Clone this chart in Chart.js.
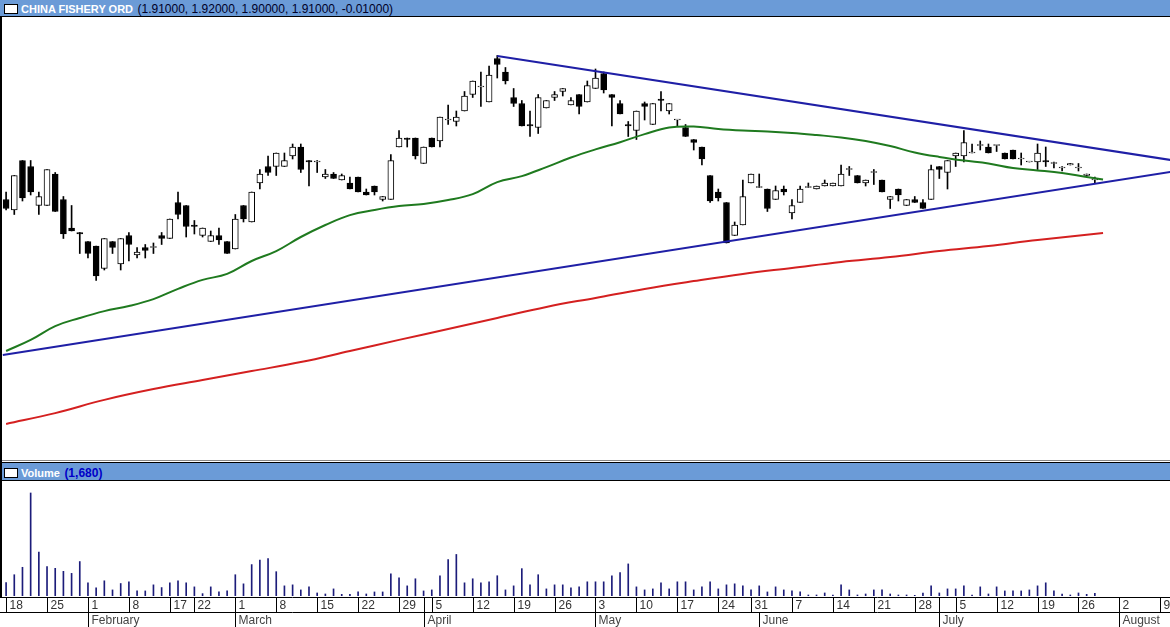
<!DOCTYPE html>
<html>
<head>
<title>China Fishery Ord</title>
<script src="https://cdn.jsdelivr.net/npm/chart.js@4.4.0/dist/chart.umd.min.js"></script>
<style>
    body { margin: 0; width: 1170px; height: 627px; overflow: hidden; background: #fff; position: relative;
           font-family: "Liberation Sans", Arial, sans-serif; }
    .bar { position: absolute; left: 0; width: 1170px; background: #6b9bd7; }
    #hdr1 { top: 0; height: 16px; border-bottom: 1px solid #000; }
    #hdr2 { top: 462px; height: 17px; border-top: 1px solid #000; border-bottom: 1px solid #000; }
    .icon { position: absolute; left: 4px; top: 4px; width: 12px; height: 8px; background: #fff; border: 1px solid #000; }
    .txt { position: absolute; left: 21px; top: 1px; white-space: nowrap; line-height: 14px; }
    .name { color: #fff; font-weight: bold; font-size: 11px; }
    .vals { color: #000028; font-size: 12px; }
    .vol { color: #0000c8; font-weight: bold; font-size: 12px; }
    canvas { position: absolute; left: 0; }
    #priceChart { top: 17px; }
    #volChart { top: 481px; }
    #sep { position: absolute; top: 460px; left: 0; width: 1170px; height: 1px; background: #888; }
    #lborder { position: absolute; left: 0; top: 17px; width: 2px; height: 580px; background: #000; }
</style>
</head>
<body>
    <div id="hdr1" class="bar"><div class="icon"></div>
        <div class="txt"><span class="name">CHINA FISHERY ORD</span> <span class="vals">(1.91000, 1.92000, 1.90000, 1.91000, -0.01000)</span></div>
    </div>
    <canvas id="priceChart" width="1170" height="444"></canvas>
    <div id="sep"></div>
    <div id="hdr2" class="bar"><div class="icon" style="top:5px"></div>
        <div class="txt" style="top:2px"><span class="name">Volume</span> <span class="vol">(1,680)</span></div>
    </div>
    <canvas id="volChart" width="1170" height="146"></canvas>
    <div id="lborder"></div>

<script>
// trading days (2010)
const dates = ['1/18','1/19','1/20','1/21','1/22','1/25','1/26','1/27','1/28','1/29',
    '2/1','2/2','2/3','2/4','2/5','2/8','2/9','2/10','2/11','2/12','2/17','2/18','2/19','2/22','2/23','2/24','2/25','2/26',
    '3/1','3/2','3/3','3/4','3/5','3/8','3/9','3/10','3/11','3/12','3/15','3/16','3/17','3/18','3/19',
    '3/22','3/23','3/24','3/25','3/26','3/29','3/30','3/31',
    '4/1','4/5','4/6','4/7','4/8','4/9','4/12','4/13','4/14','4/15','4/16','4/19','4/20','4/21','4/22','4/23',
    '4/26','4/27','4/28','4/29','4/30',
    '5/3','5/4','5/5','5/6','5/7','5/10','5/11','5/12','5/13','5/14','5/17','5/18','5/19','5/20','5/21',
    '5/24','5/25','5/26','5/27','5/31',
    '6/1','6/2','6/3','6/4','6/7','6/8','6/9','6/10','6/11','6/14','6/15','6/16','6/17','6/18',
    '6/21','6/22','6/23','6/24','6/25','6/28','6/29','6/30',
    '7/1','7/2','7/5','7/6','7/7','7/8','7/9','7/12','7/13','7/14','7/15','7/16',
    '7/19','7/20','7/21','7/22','7/23','7/26','7/27','7/28'];

const opens = [1.845,1.81,1.975,1.955,1.825,1.825,1.93,1.845,1.75,1.735,
    1.705,1.69,1.615,1.705,1.63,1.725,1.66,1.685,1.685,1.725,
    1.715,1.835,1.825,1.76,1.725,1.705,1.725,1.705,1.68,1.825,
    1.77,1.90,1.955,1.955,1.955,1.99,2.02,1.975,1.97,1.92,
    1.93,1.91,1.90,1.92,1.87,1.89,1.845,1.845,2.02,2.05,
    2.05,1.965,2.05,2.04,2.11,2.105,2.14,2.195,2.22,2.17,
    2.315,2.27,2.185,2.165,2.095,2.085,2.15,2.185,2.205,2.16,
    2.195,2.17,2.215,2.265,2.195,2.165,2.095,2.075,2.165,2.095,
    2.18,2.14,2.11,2.085,2.045,2.02,1.925,1.87,1.835,1.725,
    1.76,1.90,1.885,1.88,1.845,1.88,1.80,1.835,1.885,1.88,
    1.89,1.89,1.89,1.945,1.925,1.90,1.935,1.91,1.845,1.88,
    1.825,1.845,1.835,1.845,1.955,1.935,1.99,1.99,2.00,2.025,
    2.02,2.025,2.00,2.01,1.98,1.97,1.97,1.975,1.965,1.95,
    1.96,1.95,1.925,1.91];
const highs = [1.87,1.925,1.975,1.975,1.87,1.945,1.935,1.855,1.825,1.735,
    1.705,1.69,1.715,1.705,1.715,1.735,1.685,1.695,1.70,1.735,
    1.78,1.87,1.825,1.775,1.75,1.74,1.75,1.705,1.795,1.825,
    1.87,1.945,1.99,2.00,2.00,2.03,2.03,1.975,1.975,1.945,
    1.935,1.93,1.92,1.92,1.88,1.89,1.855,1.995,2.075,2.05,
    2.05,2.02,2.05,2.12,2.16,2.14,2.205,2.24,2.27,2.29,
    2.325,2.285,2.215,2.175,2.14,2.195,2.175,2.205,2.215,2.185,
    2.195,2.24,2.28,2.27,2.195,2.175,2.105,2.14,2.17,2.165,
    2.205,2.165,2.11,2.095,2.045,2.02,1.925,1.88,1.835,1.77,
    1.91,1.93,1.93,1.88,1.89,1.89,1.845,1.89,1.90,1.89,
    1.91,1.90,1.96,1.955,1.925,1.91,1.945,1.91,1.855,1.88,
    1.845,1.855,1.845,1.96,1.955,1.975,2.00,2.075,2.03,2.04,
    2.03,2.025,2.00,2.01,2.00,1.97,2.03,2.02,1.97,1.955,
    1.965,1.965,1.93,1.92];
const lows = [1.81,1.795,1.84,1.86,1.795,1.825,1.805,1.715,1.74,1.665,
    1.65,1.575,1.61,1.665,1.61,1.64,1.65,1.65,1.665,1.695,
    1.715,1.78,1.72,1.73,1.72,1.705,1.695,1.665,1.68,1.77,
    1.77,1.88,1.925,1.925,1.955,1.98,1.935,1.89,1.935,1.915,
    1.915,1.91,1.88,1.87,1.86,1.86,1.84,1.845,2.02,2.02,
    1.98,1.965,2.02,2.02,2.095,2.09,2.14,2.185,2.155,2.17,
    2.25,2.23,2.155,2.09,2.055,2.065,2.15,2.175,2.19,2.16,
    2.13,2.17,2.215,2.20,2.09,2.13,2.055,2.045,2.11,2.095,
    2.14,2.13,2.09,2.055,2.01,1.96,1.835,1.84,1.70,1.725,
    1.76,1.90,1.885,1.805,1.845,1.86,1.78,1.835,1.885,1.88,
    1.89,1.89,1.89,1.925,1.90,1.89,1.895,1.87,1.815,1.84,
    1.825,1.835,1.815,1.845,1.915,1.88,1.955,1.97,2.00,2.01,
    2.00,2.005,1.98,1.98,1.96,1.97,1.945,1.955,1.95,1.94,
    1.96,1.94,1.925,1.90];
const closes = [1.815,1.925,1.85,1.87,1.855,1.945,1.805,1.73,1.74,1.73,
    1.665,1.59,1.715,1.685,1.715,1.695,1.67,1.675,1.685,1.715,
    1.78,1.795,1.755,1.755,1.75,1.725,1.71,1.665,1.78,1.78,
    1.87,1.93,1.935,2.00,1.975,2.02,1.945,1.97,1.97,1.93,
    1.915,1.925,1.88,1.87,1.86,1.87,1.855,1.975,2.05,2.045,
    1.99,2.02,2.02,2.12,2.11,2.12,2.19,2.24,2.22,2.26,
    2.295,2.24,2.165,2.09,2.09,2.185,2.175,2.195,2.215,2.175,
    2.155,2.225,2.25,2.21,2.185,2.13,2.09,2.14,2.155,2.165,
    2.175,2.165,2.11,2.055,2.035,1.98,1.84,1.85,1.70,1.76,
    1.855,1.93,1.885,1.815,1.875,1.87,1.825,1.88,1.885,1.89,
    1.90,1.90,1.93,1.945,1.90,1.91,1.935,1.87,1.855,1.86,
    1.845,1.835,1.815,1.945,1.945,1.975,2.00,2.035,2.00,2.025,
    2.00,2.025,1.98,1.98,1.98,1.97,2.00,1.97,1.965,1.95,
    1.965,1.95,1.93,1.91];
const volumes = [8400,13230,17850,64050,27300,18270,17220,15330,14070,21420,
    8190,5040,9450,3780,7770,8820,3150,3150,6930,5250,
    8190,9450,8190,5670,1470,5670,2520,3150,13230,7560,
    19530,22260,23310,15120,6300,6930,3780,5670,1890,1260,
    4410,1050,1050,2520,1260,2520,2520,13860,11340,6300,
    10710,3150,3780,12600,22680,25830,8190,10710,8190,8820,
    12600,3780,6300,17010,6930,13230,4410,6930,6930,5040,
    5670,8820,8820,8820,12600,14490,19950,5670,3780,4410,
    8190,4410,8820,8820,3780,5670,8820,4410,6930,7560,
    6300,3780,6300,2520,5670,3780,3150,2520,630,630,
    1890,630,6930,3780,630,1260,3780,3780,1260,630,
    630,420,1890,6300,1890,4410,4410,6300,630,5670,
    1260,5670,3150,3150,3150,3780,6300,8190,3150,1260,
    630,1890,1050,1680];

// moving averages: [bar index, value]
const maFast = [[0,1.340],[3,1.377],[6,1.423],[9,1.450],[12,1.473],[15,1.490],[18,1.513],[21,1.547],
    [24,1.577],[27,1.597],[30,1.640],[33,1.673],[36,1.720],[39,1.760],[42,1.793],[45,1.810],[48,1.823],
    [51,1.830],[54,1.843],[57,1.863],[60,1.903],[63,1.923],[66,1.953],[69,1.985],[72,2.012],[75,2.036],
    [78,2.063],[81,2.085],[84,2.088],[87,2.080],[90,2.075],[93,2.072],[96,2.067],[99,2.060],[102,2.052],
    [105,2.040],[108,2.023],[111,2.002],[114,1.987],[117,1.975],[120,1.965],[123,1.950],[126,1.942],
    [129,1.933],[132,1.920],[134,1.912]];
const maSlow = [[0,1.097],[6,1.133],[12,1.177],[18,1.213],[24,1.243],[30,1.273],[36,1.303],[42,1.340],
    [48,1.377],[54,1.413],[60,1.450],[66,1.487],[72,1.517],[78,1.547],[84,1.573],[90,1.597],[96,1.617],
    [102,1.637],[108,1.653],[114,1.673],[120,1.690],[126,1.710],[134,1.733]];

// trend lines
const upperTrend = [[60, 2.323], [142.2, 1.977]];
const lowerTrend = [[-0.4, 1.327], [142.2, 1.937]];

// date axis
const dayTickIdx = [0,5,10,15,20,23,28,33,38,43,48,51,52,57,62,67,72,77,82,87,91,96,101,106,111,114,116,121,126,131,136,141];
const dayTickLabels = ['18','25','1','8','17','22','1','8','15','22','29','','5','12','19','26','3','10','17','24','31','7','14','21','28','','5','12','19','26','2','9'];
const monthTickIdx = [10, 28, 51, 72, 92, 114, 136];
const monthNames = ['February','March','April','May','June','July','August'];

const xMin = -0.745, xMax = 142.18;
const pts = arr => arr.map(p => ({ x: p[0], y: p[1] }));

function lineSet(data, color, tension) {
    return {
        type: 'line', data: pts(data), borderColor: color, borderWidth: 2,
        pointRadius: 0, tension: tension, order: 0
    };
}

const baseOptions = {
    responsive: false,
    animation: false,
    events: [],
    plugins: { legend: { display: false }, tooltip: { enabled: false } }
};

new Chart(document.getElementById('priceChart'), {
    type: 'bar',
    data: {
        datasets: [
            lineSet(upperTrend, '#1f1fa6', 0),
            lineSet(lowerTrend, '#1f1fa6', 0),
            lineSet(maFast, '#1f7a1f', 0.4),
            lineSet(maSlow, '#d42020', 0.4),
            {
                data: dates.map((d, i) => ({ x: i, y: [opens[i], closes[i]] })),
                backgroundColor: dates.map((d, i) => closes[i] < opens[i] ? '#000' : '#fff'),
                borderColor: '#000', borderWidth: 1, borderSkipped: false,
                barThickness: 6, minBarLength: 1, grouped: false, order: 1
            },
            {
                data: dates.map((d, i) => ({ x: i, y: [lows[i], highs[i]] })),
                backgroundColor: '#000', borderWidth: 0,
                barThickness: 1, grouped: false, order: 2
            }
        ]
    },
    options: {
        ...baseOptions,
        layout: { padding: 0 },
        scales: {
            x: { type: 'linear', min: xMin, max: xMax, offset: false, display: false },
            y: { min: 0.97333, max: 2.45333, display: false }
        }
    }
});

const dateAxis = {
    id: 'dateAxis',
    afterDraw(chart) {
        const ctx = chart.ctx, xs = chart.scales.x, top = chart.chartArea.bottom;
        const w = chart.width, h = chart.height;
        ctx.save();
        ctx.strokeStyle = '#000';
        ctx.lineWidth = 1;
        ctx.beginPath();
        ctx.moveTo(0, top + 1.5); ctx.lineTo(w, top + 1.5);
        ctx.moveTo(0, top + 16.5); ctx.lineTo(w, top + 16.5);
        ctx.stroke();
        ctx.font = '12px "Liberation Sans", Arial, sans-serif';
        ctx.fillStyle = '#333';
        dayTickIdx.forEach((idx, k) => {
            const x = Math.round(xs.getPixelForValue(idx)) + 0.5;
            ctx.beginPath(); ctx.moveTo(x, top + 1.5); ctx.lineTo(x, top + 16.5); ctx.stroke();
            ctx.fillText(dayTickLabels[k], x + 3, top + 13);
        });
        ctx.fillStyle = '#444';
        monthTickIdx.forEach((idx, k) => {
            const x = Math.round(xs.getPixelForValue(idx)) + 0.5;
            ctx.beginPath(); ctx.moveTo(x, top + 16.5); ctx.lineTo(x, h); ctx.stroke();
            ctx.fillText(monthNames[k], x + 3, top + 28);
        });
        ctx.restore();
    }
};

new Chart(document.getElementById('volChart'), {
    type: 'bar',
    data: {
        datasets: [{
            data: dates.map((d, i) => ({ x: i, y: volumes[i] })),
            backgroundColor: '#1c1c7a', borderWidth: 0, barThickness: 1
        }]
    },
    options: {
        ...baseOptions,
        layout: { padding: { left: 0, right: 0, top: 0, bottom: 31 } },
        scales: {
            x: { type: 'linear', min: xMin, max: xMax, offset: false, display: false },
            y: { min: 0, max: 71500, display: false }
        }
    },
    plugins: [dateAxis]
});
</script>
</body>
</html>
